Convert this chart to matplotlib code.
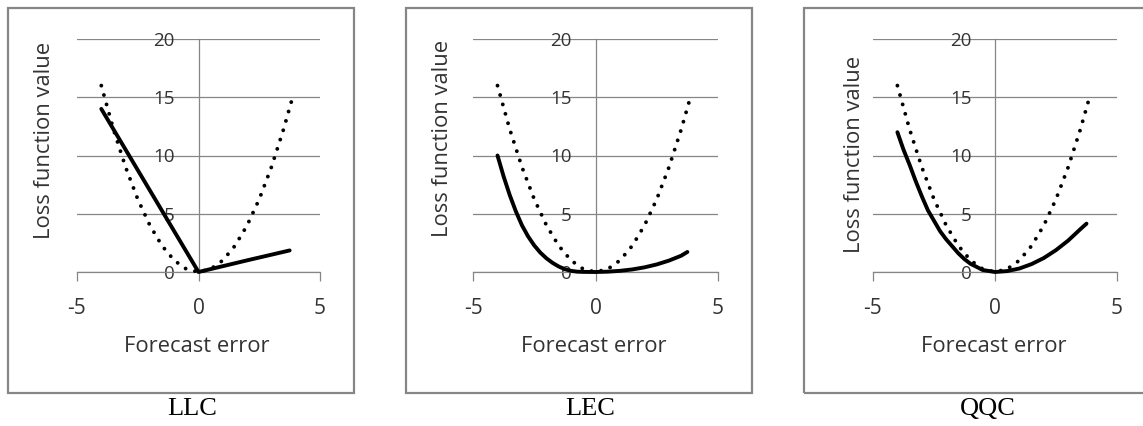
import matplotlib
matplotlib.use("Agg")
import matplotlib.pyplot as plt
from matplotlib.patches import Rectangle

W, H = 1143, 426

# dotted reference curve (same in every panel)
x_dot = [-4, -3.5, -3, -2.5, -2, -1.5, -1, -0.5, 0, 0.5, 1, 1.5, 2, 2.5, 3, 3.5, 3.9]
y_dot = [16, 12.25, 9, 6.25, 4, 2.25, 1, 0.25, 0, 0.25, 1, 2.25, 4, 6.25, 9, 12.25, 15.2]

# solid curves
x_llc = [-4, -2, 0, 2, 3.75]
y_llc = [14, 7, 0, 1.0, 1.85]

x_lec = [-4, -3.75, -3.5, -3.25, -3, -2.75, -2.5, -2.25, -2, -1.75, -1.5, -1.25, -1,
         -0.75, -0.5, 0, 0.5, 1, 1.5, 2, 2.5, 3, 3.5, 3.75]
y_lec = [10, 8.2, 6.6, 5.2, 4.0, 3.05, 2.28, 1.66, 1.17, 0.78, 0.47, 0.24, 0.1,
         0.03, 0.01, 0, 0.03, 0.1, 0.22, 0.4, 0.65, 0.98, 1.4, 1.72]

x_qqc = [-4, -3.75, -3.5, -3.25, -3, -2.75, -2.5, -2.25, -2, -1.75, -1.5, -1.25, -1,
         -0.5, 0, 0.5, 1, 1.5, 2, 2.5, 3, 3.5, 3.75]
y_qqc = [12, 10.5, 9.2, 7.8, 6.5, 5.3, 4.4, 3.5, 2.8, 2.2, 1.6, 1.1, 0.7,
         0.17, 0, 0.08, 0.3, 0.68, 1.2, 1.88, 2.7, 3.68, 4.15]

captions = ["LLC", "LEC", "QQC"]
x_ticks = [-5, 0, 5]
y_ticks = [0, 5, 10, 15, 20]

# pixel layout of each panel
axes_px = [(77, 320), (473, 718), (873, 1117)]
box_px = [(8, 354), (406, 752), (804, 1150)]
ylab_px = [(45, 140), (442, 138), (855, 154)]
cap_x = [192, 590, 988]
xlab_x = [197, 594, 994]
ax_top, ax_bot = 39, 272

grid_col = "#868686"
txt_col = "#333333"
sans = "Open Sans"

fig = plt.figure(figsize=(W / 100, H / 100), dpi=100)

series = [(x_llc, y_llc), (x_lec, y_lec), (x_qqc, y_qqc)]
for i in range(3):
    l, r = axes_px[i]
    ax = fig.add_axes([l / W, 1 - ax_bot / H, (r - l) / W, (ax_bot - ax_top) / H])
    ax.set_xlim(-5, 5)
    ax.set_ylim(0, 20)

    ax.plot(x_dot, y_dot, color="black", lw=2.8, linestyle=(0, (0.01, 2.5)),
            dash_capstyle="round", clip_on=False, zorder=3)
    xs, ys = series[i]
    ax.plot(xs, ys, color="black", lw=2.8, solid_capstyle="round",
            solid_joinstyle="round", clip_on=False, zorder=4)

    for s in ["top", "right"]:
        ax.spines[s].set_visible(False)
    ax.spines["left"].set_position(("data", 0))
    ax.spines["left"].set_color(grid_col)
    ax.spines["bottom"].set_color(grid_col)
    ax.spines["left"].set_linewidth(0.9)
    ax.spines["bottom"].set_linewidth(0.9)

    ax.set_xticks(x_ticks)
    ax.set_xticklabels([str(v) for v in x_ticks])
    ax.set_yticks(y_ticks)
    ax.set_yticklabels([str(v) for v in y_ticks])
    ax.tick_params(axis="x", direction="out", length=6.5, width=0.9, color=grid_col,
                   pad=12, labelsize=15, labelcolor=txt_col)
    ax.tick_params(axis="y", length=0, pad=17, labelsize=13.5, labelcolor=txt_col)
    for lab in ax.get_xticklabels() + ax.get_yticklabels():
        lab.set_family(sans)
    ax.yaxis.grid(True, color=grid_col, lw=0.9)
    ax.set_axisbelow(True)
    ax.patch.set_visible(False)

    bl, br = box_px[i]
    fig.patches.append(Rectangle((bl / W, 1 - 393 / H), (br - bl) / W, (393 - 8) / H,
                                 transform=fig.transFigure, fill=False,
                                 edgecolor=grid_col, lw=1.6))

    yx, yy = ylab_px[i]
    fig.text(yx / W, 1 - yy / H, "Loss function value", rotation=90, ha="center",
             va="center", family=sans, size=15.8, color=txt_col)
    fig.text(xlab_x[i] / W, 1 - 347 / H, "Forecast error", ha="center", va="center",
             family=sans, size=15.8, color=txt_col)
    fig.text(cap_x[i] / W, 1 - 409 / H, captions[i], ha="center", va="center",
             family="Liberation Serif", size=19, color="black")

fig.savefig("out.png", dpi=100)
